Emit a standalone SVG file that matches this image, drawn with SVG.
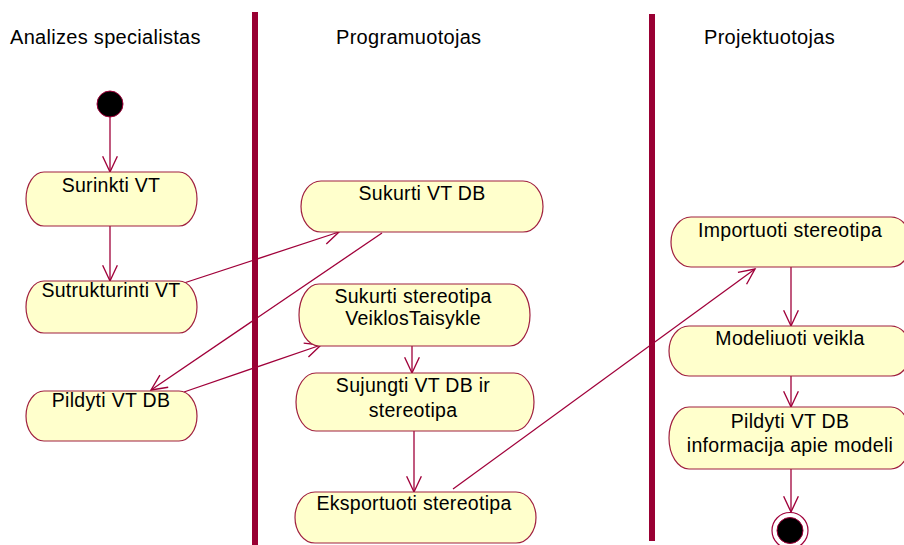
<svg xmlns="http://www.w3.org/2000/svg" width="904" height="545" viewBox="0 0 904 545">
<defs>
<style>
.lane{fill:#990033;}
.hdr{font-family:"Liberation Sans",Arial,sans-serif;font-size:20px;fill:#000;letter-spacing:0.3px;}
.act{fill:#ffffcc;stroke:#a0203f;stroke-width:1.2;}
.lbl{font-family:"Liberation Sans",Arial,sans-serif;font-size:19.5px;fill:#000;text-anchor:middle;letter-spacing:0.3px;}
.edge{fill:none;stroke:#a0003a;stroke-width:1.3;}
</style>
<marker id="arr" markerUnits="userSpaceOnUse" markerWidth="20" markerHeight="20" viewBox="-17 -9 19 18" refX="0" refY="0" orient="auto">
<path d="M-15,-7 L0,0 L-15,7" fill="none" stroke="#a0003a" stroke-width="1.3"/>
</marker>
</defs>
<rect width="904" height="545" fill="#fff"/>
<g id="lanes">
<rect class="lane" x="252" y="12" width="6" height="533"/>
<rect class="lane" x="649" y="14" width="6" height="527"/>
<text class="hdr" x="10" y="44">Analizes specialistas</text>
<text class="hdr" x="336" y="44">Programuotojas</text>
<text class="hdr" x="704" y="44">Projektuotojas</text>
</g>
<g id="connectors">
<line class="edge" x1="110" y1="117" x2="110" y2="172" marker-end="url(#arr)"/>
<line class="edge" x1="110" y1="226" x2="110" y2="281" marker-end="url(#arr)"/>
<line class="edge" x1="184" y1="283" x2="339" y2="232" marker-end="url(#arr)"/>
<line class="edge" x1="382" y1="233" x2="151" y2="390" marker-end="url(#arr)"/>
<line class="edge" x1="184" y1="392" x2="321" y2="345" marker-end="url(#arr)"/>
<line class="edge" x1="412" y1="346" x2="412" y2="373" marker-end="url(#arr)"/>
<line class="edge" x1="414" y1="431" x2="414" y2="492" marker-end="url(#arr)"/>
<line class="edge" x1="453" y1="489" x2="755" y2="269" marker-end="url(#arr)"/>
<line class="edge" x1="791" y1="267" x2="791" y2="326" marker-end="url(#arr)"/>
<line class="edge" x1="791" y1="376" x2="791" y2="407" marker-end="url(#arr)"/>
<line class="edge" x1="791" y1="469" x2="791" y2="512" marker-end="url(#arr)"/>
</g>
<g id="start">
<circle cx="110" cy="104" r="13" fill="#000" stroke="#a0003a" stroke-width="1"/>
</g>
<g id="surinkti">
<rect class="act" x="26" y="172" width="171" height="54" rx="18" ry="27"/>
<text class="lbl" x="111" y="192">Surinkti VT</text>
</g>
<g id="sutrukturinti">
<rect class="act" x="26" y="281" width="171" height="52" rx="18" ry="26"/>
<text class="lbl" x="111" y="297">Sutrukturinti VT</text>
</g>
<g id="pildyti1">
<rect class="act" x="26" y="391" width="171" height="50" rx="18" ry="25"/>
<text class="lbl" x="111" y="407">Pildyti VT DB</text>
</g>
<g id="sukurtiDB">
<rect class="act" x="301" y="181" width="242" height="51" rx="20" ry="25.5"/>
<text class="lbl" x="422" y="200">Sukurti VT DB</text>
</g>
<g id="sukurtiStereo">
<rect class="act" x="299" y="284" width="231" height="62" rx="20" ry="31"/>
<text class="lbl" x="413" y="303">Sukurti stereotipa</text>
<text class="lbl" x="413" y="325">VeiklosTaisykle</text>
</g>
<g id="sujungti">
<rect class="act" x="296" y="373" width="238" height="58" rx="20" ry="29"/>
<text class="lbl" x="413" y="392">Sujungti VT DB ir</text>
<text class="lbl" x="413" y="417">stereotipa</text>
</g>
<g id="eksportuoti">
<rect class="act" x="295" y="492" width="241" height="51" rx="20" ry="25.5"/>
<text class="lbl" x="414" y="510">Eksportuoti stereotipa</text>
</g>
<g id="importuoti">
<rect class="act" x="671" y="217" width="240" height="50" rx="20" ry="25"/>
<text class="lbl" x="790" y="237">Importuoti stereotipa</text>
</g>
<g id="modeliuoti">
<rect class="act" x="669" y="326" width="242" height="50" rx="20" ry="25"/>
<text class="lbl" x="790" y="345">Modeliuoti veikla</text>
</g>
<g id="pildyti2">
<rect class="act" x="669" y="407" width="242" height="62" rx="20" ry="31"/>
<text class="lbl" x="790" y="428">Pildyti VT DB</text>
<text class="lbl" x="790" y="452">informacija apie modeli</text>
</g>
<g id="end">
<circle cx="790" cy="530.5" r="18" fill="#fff" stroke="#a0003a" stroke-width="1.2"/>
<circle cx="790" cy="530.5" r="13" fill="#000" stroke="#a0003a" stroke-width="1"/>
</g>
</svg>
